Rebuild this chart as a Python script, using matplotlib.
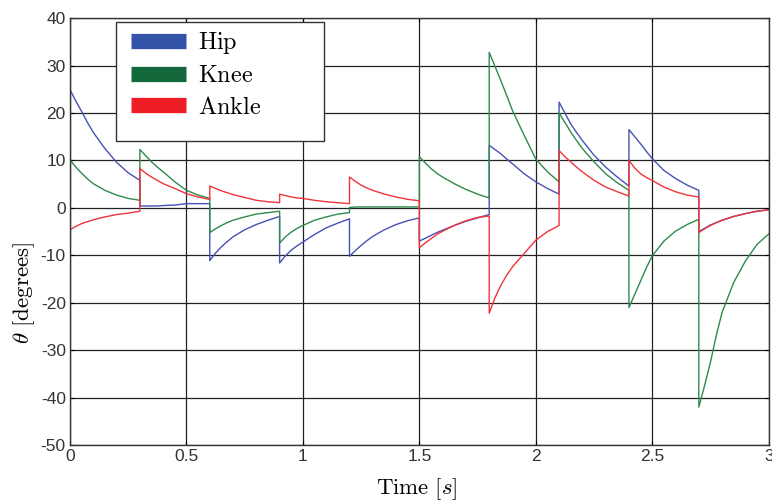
import numpy as np
import matplotlib.pyplot as plt
from matplotlib.lines import Line2D
from matplotlib.patches import Rectangle

plt.rcParams['mathtext.fontset'] = 'cm'
plt.rcParams['axes.unicode_minus'] = False

# each step lasts 0.3 s; denser samples early in a step where the curves bend most
step_start = [0.0, 0.3, 0.6, 0.9, 1.2, 1.5, 1.8, 2.1, 2.4, 2.7]
step_t = [0.0, 0.025, 0.05, 0.075, 0.10, 0.15, 0.20, 0.25, 0.30]

hip = [
    [24.9, 22.5, 20.3, 18.0, 15.9, 12.5, 9.6, 7.4, 5.8],
    [0.4, 0.4, 0.4, 0.4, 0.5, 0.6, 0.9, 0.9, 0.9],
    [-11.1, -9.5, -8.2, -7.1, -6.1, -4.6, -3.5, -2.6, -1.8],
    [-11.6, -10.1, -8.9, -8.0, -7.2, -5.6, -4.2, -3.2, -2.3],
    [-10.2, -9.0, -7.9, -6.9, -6.0, -4.6, -3.5, -2.7, -2.1],
    [-7.0, -6.4, -5.8, -5.2, -4.7, -3.7, -2.8, -2.1, -1.4],
    [13.2, 12.3, 11.4, 10.3, 9.3, 7.2, 5.5, 4.1, 2.9],
    [22.3, 20.0, 17.7, 15.9, 14.2, 11.1, 8.6, 6.5, 4.6],
    [16.5, 15.0, 13.5, 11.9, 10.4, 7.9, 6.2, 4.8, 3.7],
    [-5.0, -4.3, -3.6, -3.1, -2.6, -1.8, -1.2, -0.7, -0.4],
]
knee = [
    [10.1, 8.6, 7.3, 6.1, 5.1, 3.7, 2.7, 2.0, 1.6],
    [12.3, 11.0, 9.7, 8.6, 7.6, 5.5, 3.7, 2.7, 2.0],
    [-5.2, -4.4, -3.7, -3.1, -2.6, -1.9, -1.3, -1.0, -0.7],
    [-7.4, -6.1, -5.1, -4.3, -3.7, -2.6, -1.9, -1.3, -1.0],
    [0.1, 0.2, 0.2, 0.2, 0.2, 0.2, 0.2, 0.2, 0.2],
    [10.8, 9.5, 8.3, 7.3, 6.5, 5.1, 3.9, 2.9, 2.1],
    [32.8, 29.8, 26.8, 23.7, 20.5, 15.3, 10.3, 7.6, 5.5],
    [20.0, 18.0, 16.0, 14.2, 12.5, 9.7, 7.2, 5.3, 3.7],
    [-21.0, -18.2, -15.4, -12.6, -10.1, -7.0, -4.9, -3.5, -2.4],
    [-42.0, -37.4, -32.5, -26.9, -22.0, -15.7, -11.2, -7.7, -5.5],
]
ankle = [
    [-4.6, -3.9, -3.3, -2.9, -2.5, -1.9, -1.4, -1.1, -0.7],
    [8.3, 7.3, 6.5, 5.8, 5.1, 4.1, 3.0, 2.3, 1.8],
    [4.6, 4.1, 3.6, 3.2, 2.8, 2.2, 1.6, 1.3, 1.1],
    [2.9, 2.6, 2.3, 2.1, 2.0, 1.6, 1.3, 1.1, 0.9],
    [6.5, 5.6, 4.8, 4.2, 3.7, 2.9, 2.3, 1.8, 1.5],
    [-8.4, -7.4, -6.5, -5.6, -4.9, -3.7, -2.7, -2.0, -1.7],
    [-22.2, -18.9, -16.3, -14.2, -12.4, -9.6, -6.8, -5.0, -3.7],
    [12.1, 10.8, 9.7, 8.6, 7.6, 5.8, 4.4, 3.4, 2.5],
    [10.0, 8.4, 7.2, 6.4, 5.8, 4.4, 3.4, 2.7, 2.3],
    [-5.2, -4.4, -3.7, -3.1, -2.6, -1.8, -1.2, -0.7, -0.4],
]

names = ['Hip', 'Knee', 'Ankle']
colors = ['#4651b4', '#2e8a4c', '#f0343a']
legend_colors = ['#3353a8', '#12683a', '#ee1c25']

t = np.concatenate([s + np.array(step_t) for s in step_start])

fig = plt.figure(figsize=(7.72, 5.03), dpi=100)
ax = fig.add_axes([0.0907, 0.115, 0.905, 0.849])

for series, c in zip([hip, knee, ankle], colors):
    ax.plot(t, np.concatenate(series), color=c, lw=1.0)

ax.set_xlim(0, 3)
ax.set_ylim(-50, 40)
ax.set_xticks([0, 0.5, 1, 1.5, 2, 2.5, 3])
ax.set_xticklabels(['0', '0.5', '1', '1.5', '2', '2.5', '3'])
ax.set_yticks(np.arange(-50, 41, 10))
ax.grid(True, color='#222222', lw=0.9)
ax.tick_params(direction='in', length=3, top=True, right=True,
               labelsize=12.5, labelcolor='#333333', pad=3)
for lbl in ax.get_xticklabels() + ax.get_yticklabels():
    lbl.set_family('Liberation Sans')
for sp in ax.spines.values():
    sp.set_color('#333333')
    sp.set_linewidth(1.0)

ax.set_ylabel(r'$\theta\ \mathrm{[degrees]}$', fontsize=16.5)
ax.yaxis.set_label_coords(-0.047, 0.356)
ax.set_xlabel(r'$\mathrm{Time}\ [s]$', fontsize=16.5)
ax.xaxis.set_label_coords(0.496, -0.073)

# legend box
ax.add_patch(Rectangle((0.066, 0.712), 0.297, 0.278, transform=ax.transAxes,
                       facecolor='white', edgecolor='#333333', lw=1.0, zorder=5))
handles = [Line2D([], [], color=c, lw=11, solid_capstyle='butt') for c in legend_colors]
leg = ax.legend(handles, [r'$\mathrm{%s}$' % n for n in names],
                loc='upper left', bbox_to_anchor=(0.087, 0.972), frameon=False,
                fontsize=17.5, handlelength=2.26, handletextpad=0.5,
                labelspacing=0.3, borderpad=0, borderaxespad=0)
leg.set_zorder(6)

fig.savefig('out.png', dpi=100)
